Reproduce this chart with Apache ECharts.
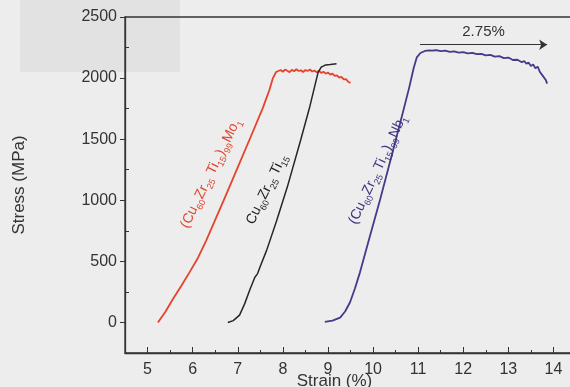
<!DOCTYPE html>
<html>
<head>
<meta charset="utf-8">
<script src="https://cdn.jsdelivr.net/npm/echarts@6/dist/echarts.min.js"></script>
<style>
  html, body { margin: 0; padding: 0; background: #ededed; }
  #chart { width: 570px; height: 387px; }
</style>
</head>
<body>
<div id="chart"></div>
<script>
// axis ticks
var xTicks = [5, 6, 7, 8, 9, 10, 11, 12, 13, 14];
var xHalfTicks = [5.5, 6.5, 7.5, 8.5, 9.5, 10.5, 11.5, 12.5, 13.5, 14.5];
var yTicks = [0, 500, 1000, 1500, 2000, 2500];
var yHalfTicks = [250, 750, 1250, 1750, 2250];

// (Cu60Zr25Ti15)99Mo1  -- [strain %, stress MPa]
var moCurve = [
  [5.23, 0], [5.4, 90], [5.56, 190], [5.75, 300], [5.93, 410], [6.12, 530],
  [6.3, 670], [6.5, 840], [6.7, 1010], [7.0, 1270], [7.3, 1530], [7.55, 1750],
  [7.7, 1900], [7.78, 2000], [7.85, 2050],
  [7.9, 2058], [7.95, 2066], [8.0, 2052], [8.05, 2070], [8.1, 2060], [8.15, 2048],
  [8.2, 2068], [8.25, 2056], [8.3, 2072], [8.35, 2058], [8.4, 2064], [8.45, 2050],
  [8.5, 2066], [8.55, 2058], [8.6, 2070], [8.65, 2054], [8.7, 2062], [8.75, 2048],
  [8.8, 2060], [8.85, 2042], [8.9, 2052], [8.95, 2036], [9.0, 2046], [9.05, 2028],
  [9.1, 2036], [9.15, 2018], [9.2, 2022], [9.25, 2004], [9.3, 2010], [9.35, 1990],
  [9.4, 1992], [9.45, 1970], [9.5, 1960]
];

// Cu60Zr25Ti15
var baseCurve = [
  [6.78, 0], [6.9, 15], [7.04, 60], [7.15, 150], [7.27, 270], [7.38, 370],
  [7.44, 400], [7.5, 460], [7.64, 590], [7.86, 830], [8.1, 1110], [8.4, 1500],
  [8.6, 1770], [8.78, 2045], [8.85, 2090], [8.95, 2108], [9.05, 2112], [9.19, 2118]
];

// (Cu60Zr25Ti15)99Nb1
var nbCurve = [
  [8.93, 5], [9.1, 15], [9.27, 40], [9.38, 90], [9.49, 165], [9.6, 280],
  [9.71, 410], [9.93, 705], [10.16, 1010], [10.38, 1320], [10.6, 1630],
  [10.8, 1920], [10.9, 2080], [10.97, 2170], [11.05, 2205], [11.15, 2222],
  [11.25, 2226], [11.3, 2224], [11.4, 2228], [11.5, 2220], [11.6, 2224],
  [11.7, 2214], [11.8, 2218], [11.9, 2208], [12.0, 2212], [12.1, 2202],
  [12.2, 2206], [12.3, 2196], [12.4, 2198], [12.5, 2186], [12.6, 2190],
  [12.7, 2176], [12.8, 2180], [12.9, 2164], [13.0, 2168], [13.1, 2148],
  [13.2, 2150], [13.3, 2130], [13.35, 2140], [13.4, 2118], [13.45, 2126],
  [13.5, 2098], [13.55, 2112], [13.6, 2080], [13.65, 2094], [13.7, 2050],
  [13.73, 2066], [13.76, 2020], [13.8, 2030], [13.83, 1985], [13.86, 1955]
];

// elongation arrow (strain range, stress level) and its text
var arrowStrain = [11.04, 13.86];
var arrowStress = 2273;
var arrowText = '2.75%';

// curve captions: [strain, stress] of the caption centre, angle in degrees
var captions = [
  { text: '(Cu{s|60}Zr{s|25} Ti{s|15}){s|99}Mo{s|1}', at: [6.4, 1220], angle: 64, color: '#e0452f' },
  { text: 'Cu{s|60}Zr{s|25} Ti{s|15}', at: [7.64, 1090], angle: 64, color: '#222222' },
  { text: '(Cu{s|60}Zr{s|25} Ti{s|15}){s|99}Nb{s|1}', at: [10.1, 1250], angle: 65, color: '#3d3580' }
];

var FONT = '"Liberation Sans", Arial, sans-serif';
var chart = echarts.init(document.getElementById('chart'));

var option = {
  backgroundColor: '#ededed',
  animation: false,
  grid: {
    left: 125, right: -6, top: 17, bottom: 34,
    outerBoundsMode: 'none',
    show: true, borderColor: '#333', borderWidth: 1.3
  },
  xAxis: [
    {
      type: 'value', min: 4.5, max: 14.5,
      name: 'Strain (%)', nameLocation: 'middle', nameGap: 20, nameMoveOverlap: false,
      nameTextStyle: { fontFamily: FONT, fontSize: 17, color: '#333', padding: [0, 32, 0, 0] },
      axisLine: { onZero: false, lineStyle: { color: '#333', width: 1.3 } },
      axisTick: { inside: true, length: 6, customValues: xTicks, lineStyle: { color: '#333' } },
      axisLabel: { customValues: xTicks, margin: 9, fontFamily: FONT, fontSize: 16, color: '#333' },
      splitLine: { show: false }
    },
    {
      type: 'value', min: 4.5, max: 14.5, position: 'bottom',
      axisLine: { show: false, onZero: false },
      axisTick: { inside: true, length: 3, customValues: xHalfTicks, lineStyle: { color: '#333' } },
      axisLabel: { show: false, customValues: xHalfTicks },
      splitLine: { show: false }
    }
  ],
  yAxis: [
    {
      type: 'value', min: -250, max: 2500,
      name: 'Stress (MPa)', nameLocation: 'middle', nameGap: 97, nameMoveOverlap: false,
      nameTextStyle: { fontFamily: FONT, fontSize: 17, color: '#333' },
      axisLine: { show: true, onZero: false, lineStyle: { color: '#333', width: 1.3 } },
      axisTick: { show: true, inside: false, length: 5, customValues: yTicks, lineStyle: { color: '#333' } },
      axisLabel: {
        customValues: yTicks, margin: 8, fontFamily: FONT, fontSize: 16, color: '#333',
        formatter: function (v) { return String(v); }
      },
      splitLine: { show: false }
    },
    {
      type: 'value', min: -250, max: 2500, position: 'left',
      axisLine: { show: false, onZero: false },
      axisTick: { show: true, inside: true, length: 4, customValues: yHalfTicks, lineStyle: { color: '#333' } },
      axisLabel: { show: false, customValues: yHalfTicks },
      splitLine: { show: false }
    }
  ],
  series: [
    {
      name: 'Mo1', type: 'line', data: moCurve, showSymbol: false,
      lineStyle: { color: '#e5432d', width: 1.8 }, z: 3
    },
    {
      name: 'base', type: 'line', data: baseCurve, showSymbol: false,
      lineStyle: { color: '#262626', width: 1.5 }, z: 4
    },
    {
      name: 'Nb1', type: 'line', data: nbCurve, showSymbol: false,
      lineStyle: { color: '#45398a', width: 1.8 },
      markLine: {
        silent: true,
        symbol: ['none', 'arrow'],
        symbolSize: 8,
        lineStyle: { color: '#333', width: 1, type: 'solid' },
        label: {
          show: true, position: 'middle', formatter: arrowText, distance: 5,
          fontFamily: FONT, fontSize: 15, color: '#333'
        },
        data: [[
          { coord: [arrowStrain[0], arrowStress] },
          { coord: [arrowStrain[1], arrowStress] }
        ]]
      }
    }
  ]
};

chart.setOption(option);

// place the captions along the curves, from data coordinates
var texts = captions.map(function (c) {
  var p = chart.convertToPixel({ xAxisIndex: 0, yAxisIndex: 0 }, c.at);
  return {
    type: 'text',
    x: p[0], y: p[1],
    rotation: c.angle * Math.PI / 180,
    z: 10,
    style: {
      text: c.text,
      fill: c.color,
      fontFamily: FONT,
      fontSize: 14,
      lineHeight: 20,
      align: 'center',
      verticalAlign: 'middle',
      rich: {
        s: { fontSize: 9, fill: c.color, fontFamily: FONT, lineHeight: 10, verticalAlign: 'bottom' }
      }
    }
  };
});
// greyish scan band in the top-left corner
texts.unshift({
  type: 'rect', z: -10, silent: true,
  shape: { x: 20, y: 0, width: 160, height: 72 },
  style: { fill: '#e2e2e2' }
});
chart.setOption({ graphic: texts });
</script>
</body>
</html>
